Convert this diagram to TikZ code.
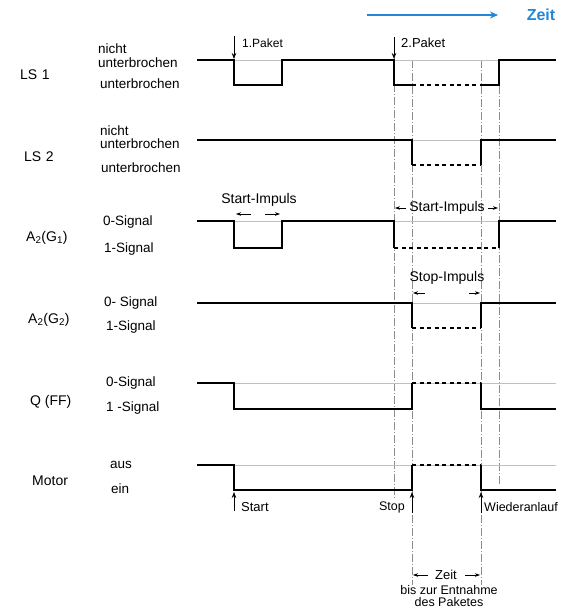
\documentclass[tikz,border=0pt]{standalone}
\usepackage{fontspec}
\setmainfont{Liberation Sans}
\usetikzlibrary{arrows.meta, positioning}
\definecolor{zeitblue}{RGB}{35,135,215}
\definecolor{guidegray}{RGB}{140,140,140}

\begin{document}
\begin{tikzpicture}[x=1pt, y=-1pt,
  sig/.style={line width=1.9pt, line join=miter},
  alt/.style={line width=1.7pt, dash pattern=on 4pt off 3.5pt},
  refline/.style={line width=0.4pt, draw=guidegray!55},
  guide/.style={line width=0.5pt, draw=guidegray, dash pattern=on 8pt off 2pt on 1pt off 2pt},
  lbl/.style={font=\fontsize{14}{14}\selectfont, inner sep=0pt, anchor=west},
  state/.style={font=\fontsize{13.5}{13.5}\selectfont, inner sep=0pt, anchor=west},
  note/.style={font=\fontsize{13}{13}\selectfont, inner sep=0pt},
  tick/.style={-{Stealth[length=6pt,width=4.5pt]}, line width=0.7pt},
  dim/.style={-{Stealth[length=5pt,width=3.5pt]}, line width=0.6pt}
]
\useasboundingbox (0,0) rectangle (578,608);

% time axis
\coordinate (zs) at (367,15);
\coordinate (ze) at (498,15);
\draw[-{Stealth[length=8pt,width=7pt]}, zeitblue, line width=1.6pt] (zs) -- (ze);
\node[font=\bfseries\fontsize{16}{16}\selectfont, text=zeitblue, inner sep=0pt] (zeit) at (541,15) {Zeit};

% signal names
\node[lbl] (ls1) at (20,75) {LS\,\,1};
\node[lbl] (ls2) at (24,157) {LS\,\,2};
\node[lbl] (ag1) at (26,238) {A\textsubscript{2}(G\textsubscript{1})};
\node[lbl] (ag2) at (28,320) {A\textsubscript{2}(G\textsubscript{2})};
\node[lbl] (qff) at (30,402) {Q (FF)};
\node[lbl] (mot) at (32,481) {Motor};

% states
\node[state] (ls1n) at (98,49) {nicht};
\node[state] (ls1h) at (98,62.5) {unterbrochen};
\node[state] (ls1l) at (100,84) {unterbrochen};
\node[state] (ls2n) at (100,130.5) {nicht};
\node[state] (ls2h) at (100,144) {unterbrochen};
\node[state] (ls2l) at (101,168) {unterbrochen};
\node[state] (ag1h) at (103,222) {0-Signal};
\node[state] (ag1l) at (104,249) {1-Signal};
\node[state] (ag2h) at (104,303) {0- Signal};
\node[state] (ag2l) at (106,327) {1-Signal};
\node[state] (qffh) at (106,383) {0-Signal};
\node[state] (qffl) at (106,408) {1 -Signal};
\node[state] (moth) at (110,465) {aus};
\node[state] (motl) at (111,489) {ein};

% guide lines
\draw[guide] (394,45) -- (394,498);
\draw[guide] (412,60) -- (412,585);
\draw[guide] (481,60) -- (481,585);
\draw[guide] (499,60) -- (499,485);

% LS 1
\draw[refline] (234,60) -- (282,60) (394,60) -- (499,60);
\draw[sig] (197,60) -- (234,60) -- (234,85) -- (282,85) -- (282,60) -- (394,60) -- (394,85) -- (412,85);
\draw[alt] (412,85) -- (481,85);
\draw[sig] (481,85) -- (499,85) -- (499,60) -- (556,60);

% LS 2
\draw[refline] (412,140) -- (481,140);
\draw[sig] (197,140) -- (412,140) -- (412,165);
\draw[alt] (412,165) -- (481,165);
\draw[sig] (481,165) -- (481,140) -- (556,140);

% A2(G1)
\draw[refline] (234,221) -- (282,221) (394,221) -- (499,221);
\draw[sig] (197,221) -- (234,221) -- (234,248) -- (282,248) -- (282,221) -- (394,221) -- (394,248);
\draw[alt] (394,248) -- (499,248);
\draw[sig] (499,248) -- (499,221) -- (556,221);

% A2(G2)
\draw[refline] (412,303) -- (481,303);
\draw[sig] (197,303) -- (412,303) -- (412,328);
\draw[alt] (412,328) -- (481,328);
\draw[sig] (481,328) -- (481,303) -- (556,303);

% Q (FF)
\draw[refline] (234,383) -- (556,383);
\draw[sig] (197,383) -- (234,383) -- (234,409) -- (412,409) -- (412,383);
\draw[alt] (412,383) -- (481,383);
\draw[sig] (481,383) -- (481,409) -- (556,409);

% Motor
\draw[refline] (234,465) -- (556,465);
\draw[sig] (197,465) -- (234,465) -- (234,490) -- (412,490) -- (412,465);
\draw[alt] (412,465) -- (481,465);
\draw[sig] (481,465) -- (481,490) -- (556,490);

% events
\draw[tick] (234,36) -- (234,59);
\node[note, anchor=west, font=\fontsize{12}{12}\selectfont] (p1) at (242,43) {1.Paket};
\draw[tick] (394,37) -- (394,59);
\node[note, anchor=west] (p2) at (401,43) {2.Paket};
\draw[tick] (234,511) -- (234,492);
\node[note, anchor=west] (start) at (241,507) {Start};
\draw[tick] (412,513) -- (412,492);
\node[note, anchor=east, font=\fontsize{12.5}{12.5}\selectfont] (stop) at (405,507) {Stop};
\draw[tick] (481,513) -- (481,492);
\node[note, anchor=west, font=\fontsize{12.5}{12.5}\selectfont] (wied) at (484,507) {Wiederanlauf};

% impulses
\node[note, font=\fontsize{14}{14}\selectfont] (si1) at (259,200) {Start-Impuls};
\draw[dim] (251,214) -- (236,214);
\draw[dim] (265,214) -- (280,214);
\node[note, font=\fontsize{14}{14}\selectfont] (si2) at (447,208) {Start-Impuls};
\draw[dim] (406,208) -- (395,208);
\draw[dim] (488,208) -- (498,208);
\node[note, font=\fontsize{14}{14}\selectfont] (sp) at (447,278) {Stop-Impuls};
\draw[dim] (425,293) -- (413,293);
\draw[dim] (469,293) -- (480,293);

% removal time
\node[note] (zt) at (446,575) {Zeit};
\draw[dim] (428,575) -- (413,575);
\draw[dim] (465,575) -- (480,575);
\node[note, align=center, font=\fontsize{12.5}{12.5}\selectfont] (ent) at (449,596) {bis zur Entnahme\\des Paketes};
\end{tikzpicture}
\end{document}
